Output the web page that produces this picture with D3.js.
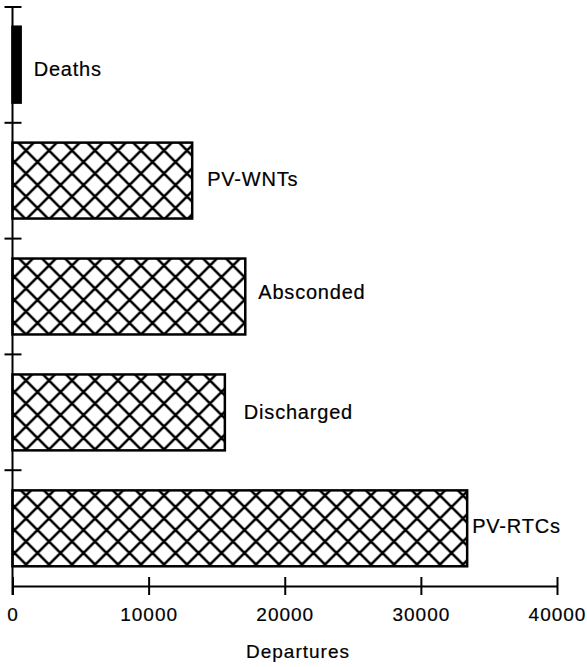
<!DOCTYPE html>
<html>
<head>
<meta charset="utf-8">
<script src="https://cdn.jsdelivr.net/npm/d3@7"></script>
<style>
  html, body { margin: 0; padding: 0; background: #fff; }
  text { font-family: "Liberation Sans", Arial, Helvetica, sans-serif; fill: #000; stroke: #000; stroke-width: 0.2px; }
</style>
</head>
<body>
<svg id="chart" width="587" height="667"></svg>
<script>
// Departures by type (bottom to top)
const categories = ["PV-RTCs", "Discharged", "Absconded", "PV-WNTs", "Deaths"];
const departures = [33400, 15600, 17100, 13200, 600];
const xTicks = [0, 10000, 20000, 30000, 40000];
const xTitle = "Departures";

// label nudges relative to bar end / bar centre
const labelDx = [5, 19, 13, 15, 13];
const labelDy = [-2, 0, -5, -2, 4];

const svg = d3.select("#chart");
const plotLeft = 12.5, plotRight = 557, plotTop = 7, plotBottom = 586;

const x = d3.scaleLinear().domain([0, 40000]).range([plotLeft, plotRight]);
const y = d3.scaleBand().domain(categories).range([plotBottom, plotTop])
  .paddingInner(0.345).paddingOuter(0.17);

// cross-hatch fill
const defs = svg.append("defs");
const s = 23;
const pat = defs.append("pattern")
  .attr("id", "xhatch")
  .attr("patternUnits", "userSpaceOnUse")
  .attr("width", s).attr("height", s)
  .attr("x", plotLeft + 2).attr("y", 1);
pat.append("rect").attr("width", s).attr("height", s).attr("fill", "#fff");
pat.append("path")
  .attr("d", `M0,0L${s},${s}M0,${s}L${s},0M${-s/2},${s/2}L${s/2},${-s/2}M${s/2},${s*1.5}L${s*1.5},${s/2}M${-s/2},${s/2}L${s/2},${s*1.5}M${s/2},${-s/2}L${s*1.5},${s/2}`)
  .attr("stroke", "#000").attr("stroke-width", 2.6).attr("fill", "none");

const data = categories.map((c, i) => ({ c, v: departures[i], i }));

svg.append("g").selectAll("rect").data(data).join("rect")
  .attr("x", x(0))
  .attr("y", d => y(d.c))
  .attr("width", d => x(d.v) - x(0))
  .attr("height", y.bandwidth())
  .attr("fill", d => d.v < 2000 ? "#000" : "url(#xhatch)")
  .attr("stroke", "#000")
  .attr("stroke-width", 2.5);

svg.append("g").selectAll("text").data(data).join("text")
  .attr("x", d => x(d.v) + labelDx[d.i])
  .attr("y", d => y(d.c) + y.bandwidth() / 2 + labelDy[d.i])
  .attr("dominant-baseline", "central")
  .attr("font-size", 20)
  .attr("letter-spacing", 0.8)
  .text(d => d.c);

// x axis with ticks crossing the line
const xAxis = svg.append("g").attr("transform", `translate(0,${plotBottom})`);
xAxis.call(d3.axisBottom(x).tickValues(xTicks).tickSize(9).tickSizeOuter(0).tickFormat(d3.format("d")))
  .call(g => g.select(".domain").attr("stroke-width", 2))
  .call(g => g.selectAll(".tick line").attr("y1", -9).attr("stroke-width", 2))
  .call(g => g.selectAll(".tick text")
    .attr("y", 35).attr("dy", null)
    .attr("font-size", 19).attr("letter-spacing", 1)
    .attr("font-family", "Liberation Sans, Arial, sans-serif"));

// y axis with band-boundary ticks crossing the line
const bounds = d3.range(categories.length + 1).map(k => plotBottom - k * (plotBottom - plotTop) / categories.length);
const yAxis = svg.append("g");
yAxis.append("line")
  .attr("x1", plotLeft).attr("x2", plotLeft).attr("y1", plotTop).attr("y2", plotBottom + 9)
  .attr("stroke", "#000").attr("stroke-width", 2);
yAxis.selectAll("line.tk").data(bounds.slice(1)).join("line")
  .attr("class", "tk")
  .attr("x1", plotLeft - 8).attr("x2", plotLeft + 9)
  .attr("y1", d => d).attr("y2", d => d)
  .attr("stroke", "#000").attr("stroke-width", 2);

svg.append("text")
  .attr("x", 298).attr("y", 658)
  .attr("text-anchor", "middle")
  .attr("font-size", 19).attr("letter-spacing", 1)
  .text(xTitle);
</script>
</body>
</html>
